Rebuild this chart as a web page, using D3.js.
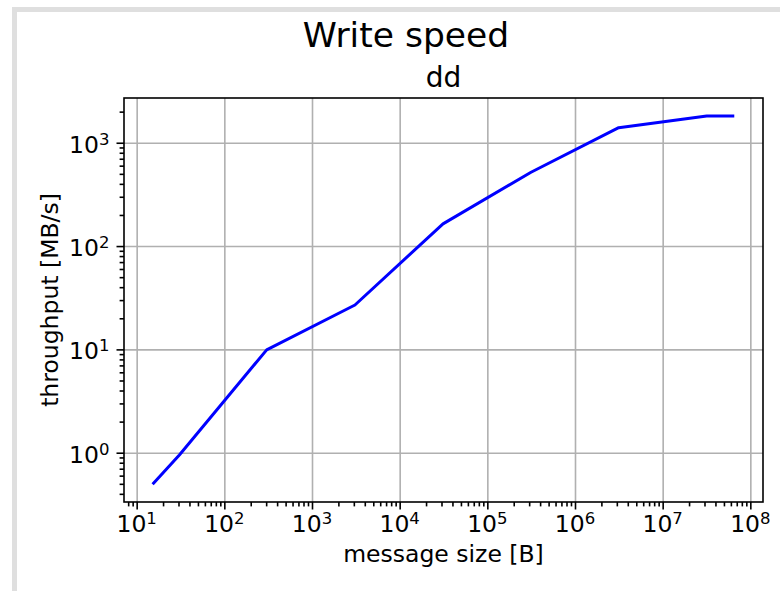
<!DOCTYPE html>
<meta charset="utf-8">
<style>
  body {
    margin: 0;
    background: white;
    font-family: 'DejaVu Sans', sans-serif;
  }

  .axis path {
    display: none;
  }

  .axis line {
    stroke: black;
    stroke-width: 1.6;
  }

  .grid line {
    stroke: #b0b0b0;
    stroke-width: 1.6;
  }

  .grid path {
    display: none;
  }

  .tickLabel {
    font-size: 23.5px;
  }

  .axisLabel {
    font-size: 23.5px;
  }
</style>

<body>
  <div id="chart"></div>
  <script src="https://d3js.org/d3.v7.min.js"></script>

  <script>
    // data
    var msgSize = [15.2, 30.7, 304, 3090, 31200, 315000, 3150000, 31800000, 65600000];
    var throughput = [0.494, 0.95, 9.9, 26.9, 164, 518, 1400, 1817, 1817];

    // tick labels (powers of ten)
    var xTickExp = [1, 2, 3, 4, 5, 6, 7, 8];
    var yTickExp = [0, 1, 2, 3];

    var width = 780,
      height = 591;

    var plot = {
      left: 124,
      right: 763,
      top: 98,
      bottom: 502
    };

    var svg = d3.select('#chart')
      .append('svg')
      .attr('width', width)
      .attr('height', height);

    // page frame (gray strips at left and top)
    svg.append('rect').attr('x', 12).attr('y', 7).attr('width', 5).attr('height', height - 7).style('fill', '#dfdfdf');
    svg.append('rect').attr('x', 12).attr('y', 7).attr('width', width - 12).attr('height', 5).style('fill', '#dfdfdf');

    var x = d3.scaleLog()
      .domain([Math.pow(10, 0.8555), Math.pow(10, 8.1445)])
      .range([plot.left, plot.right]);

    var y = d3.scaleLog()
      .domain([Math.pow(10, -0.477), Math.pow(10, 3.433)])
      .range([plot.bottom, plot.top]);

    var xMajor = xTickExp.map(e => Math.pow(10, e));
    var yMajor = yTickExp.map(e => Math.pow(10, e));

    // minor ticks 2..9 x 10^k inside the domain
    function minorTicks(scale) {
      var d = scale.domain(), out = [];
      for (var e = Math.floor(Math.log10(d[0])); e <= Math.ceil(Math.log10(d[1])); e++) {
        for (var m = 2; m <= 9; m++) {
          var v = m * Math.pow(10, e);
          if (v >= d[0] && v <= d[1]) out.push(v);
        }
      }
      return out;
    }

    // grid
    svg.append('g')
      .attr('class', 'grid')
      .attr('transform', `translate(0,${plot.bottom})`)
      .call(d3.axisBottom(x).tickValues(xMajor).tickSize(-(plot.bottom - plot.top)).tickFormat(''));

    svg.append('g')
      .attr('class', 'grid')
      .attr('transform', `translate(${plot.left},0)`)
      .call(d3.axisLeft(y).tickValues(yMajor).tickSize(-(plot.right - plot.left)).tickFormat(''));

    // the line
    var line = d3.line()
      .x((d, i) => x(msgSize[i]))
      .y(d => y(d));

    svg.append('path')
      .datum(throughput)
      .attr('d', line)
      .style('fill', 'none')
      .style('stroke', '#0000ff')
      .style('stroke-width', 3)
      .style('stroke-linejoin', 'round');

    // ticks
    svg.append('g')
      .attr('class', 'x axis')
      .attr('transform', `translate(0,${plot.bottom})`)
      .call(d3.axisBottom(x).tickValues(xMajor).tickSize(7.5).tickFormat(''));

    svg.append('g')
      .attr('class', 'x axis')
      .attr('transform', `translate(0,${plot.bottom})`)
      .call(d3.axisBottom(x).tickValues(minorTicks(x)).tickSize(4.4).tickFormat(''));

    svg.append('g')
      .attr('class', 'y axis')
      .attr('transform', `translate(${plot.left},0)`)
      .call(d3.axisLeft(y).tickValues(yMajor).tickSize(7.5).tickFormat(''));

    svg.append('g')
      .attr('class', 'y axis')
      .attr('transform', `translate(${plot.left},0)`)
      .call(d3.axisLeft(y).tickValues(minorTicks(y)).tickSize(4.4).tickFormat(''));

    // frame
    svg.append('rect')
      .attr('x', plot.left)
      .attr('y', plot.top)
      .attr('width', plot.right - plot.left)
      .attr('height', plot.bottom - plot.top)
      .style('fill', 'none')
      .style('stroke', 'black')
      .style('stroke-width', 1.6);

    // tick labels 10^n
    function powLabel(sel, e) {
      sel.append('tspan').text('10');
      sel.append('tspan').text(e).style('font-size', '16.5px').attr('dy', -8);
    }

    xTickExp.forEach(e => {
      svg.append('text')
        .attr('class', 'tickLabel')
        .attr('x', x(Math.pow(10, e)))
        .attr('y', 532)
        .attr('text-anchor', 'middle')
        .call(powLabel, e);
    });

    yTickExp.forEach(e => {
      svg.append('text')
        .attr('class', 'tickLabel')
        .attr('x', plot.left - 14.5)
        .attr('y', y(Math.pow(10, e)) + 9.8)
        .attr('text-anchor', 'end')
        .call(powLabel, e);
    });

    // axis labels
    svg.append('text')
      .attr('class', 'axisLabel')
      .attr('x', (plot.left + plot.right) / 2)
      .attr('y', 562)
      .attr('text-anchor', 'middle')
      .text('message size [B]');

    svg.append('text')
      .attr('class', 'axisLabel')
      .attr('transform', `translate(57.5,${(plot.top + plot.bottom) / 2}) rotate(-90)`)
      .attr('text-anchor', 'middle')
      .text('throughput [MB/s]');

    // titles
    svg.append('text')
      .attr('x', (plot.left + plot.right) / 2)
      .attr('y', 87)
      .attr('text-anchor', 'middle')
      .style('font-size', '28px')
      .text('dd');

    svg.append('text')
      .attr('x', 406)
      .attr('y', 47)
      .attr('text-anchor', 'middle')
      .style('font-size', '34.5px')
      .text('Write speed');
  </script>
</body>
